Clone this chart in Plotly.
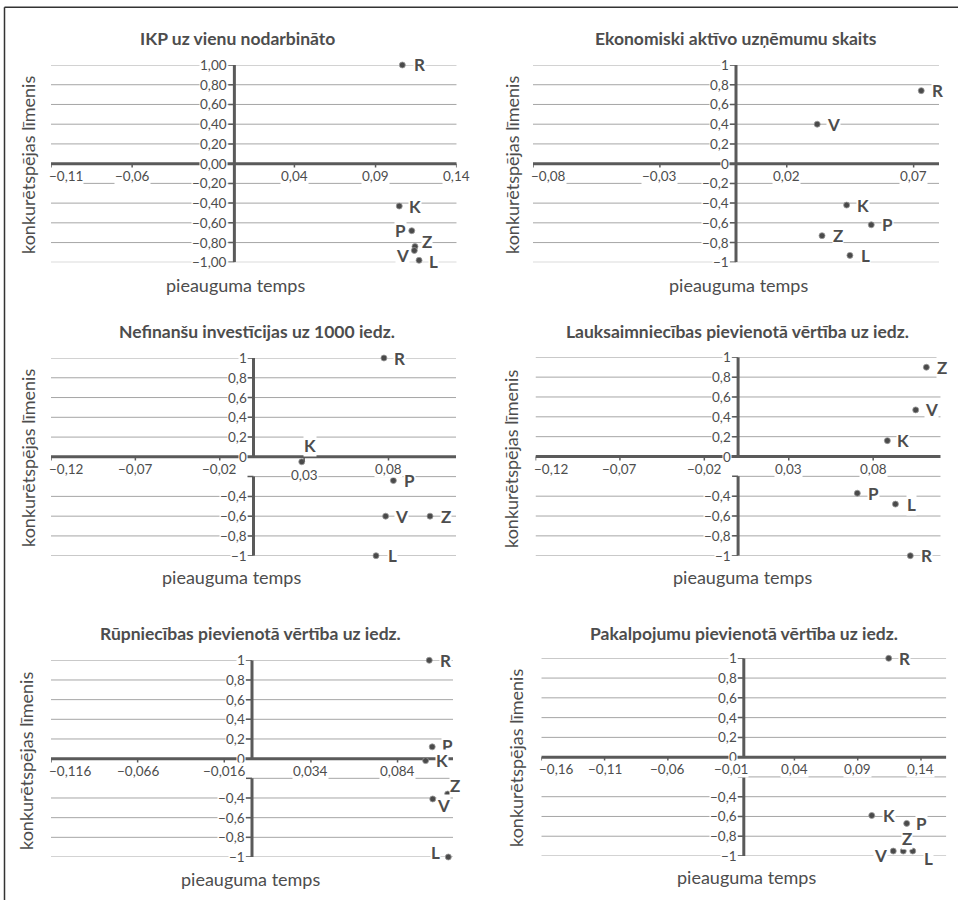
import plotly.graph_objects as go

W, H = 958, 900
FONT = "Lato"
TXT = "#4d4d4d"
AXC = "#5a5a5a"
GRID = "#a6a6a6"

# ---------------- data ----------------
titles = [
    "IKP uz vienu nodarbināto",
    "Ekonomiski aktīvo uzņēmumu skaits",
    "Nefinanšu investīcijas uz 1000 iedz.",
    "Lauksaimniecības pievienotā vērtība uz iedz.",
    "Rūpniecības pievienotā vērtība uz iedz.",
    "Pakalpojumu pievienotā vērtība uz iedz.",
]
x_title = "pieauguma temps"
y_title = "konkurētspējas līmenis"

p1_names = ["R", "K", "P", "Z", "V", "L"]
p1_x = [0.1065, 0.1046, 0.1123, 0.1143, 0.1139, 0.1168]
p1_y = [1.00, -0.43, -0.68, -0.84, -0.88, -0.98]

p2_names = ["R", "V", "K", "P", "Z", "L"]
p2_x = [0.073, 0.032, 0.0436, 0.0533, 0.0339, 0.0449]
p2_y = [0.74, 0.40, -0.42, -0.62, -0.73, -0.93]

p3_names = ["R", "K", "P", "V", "Z", "L"]
p3_x = [0.0773, 0.0286, 0.0829, 0.0783, 0.1046, 0.0726]
p3_y = [1.00, -0.05, -0.24, -0.60, -0.60, -1.00]

p4_names = ["Z", "V", "K", "P", "L", "R"]
p4_x = [0.1115, 0.1052, 0.0884, 0.0706, 0.0932, 0.1020]
p4_y = [0.90, 0.47, 0.16, -0.37, -0.48, -1.00]

p5_names = ["R", "P", "K", "Z", "V", "L"]
p5_x = [0.1023, 0.1040, 0.1002, 0.1129, 0.1043, 0.1133]
p5_y = [1.00, 0.12, -0.02, -0.36, -0.41, -1.00]

p6_names = ["R", "K", "P", "V", "Z", "L"]
p6_x = [0.1145, 0.1011, 0.1287, 0.1181, 0.1260, 0.1335]
p6_y = [1.00, -0.59, -0.67, -0.95, -0.95, -0.95]

x_ranges = [[-0.11, 0.14], [-0.08, 0.08], [-0.12, 0.12],
            [-0.12, 0.12], [-0.116, 0.116], [-0.16, 0.16]]
x_ticks = [
    [-0.11, -0.06, 0.04, 0.09, 0.14],
    [-0.08, -0.03, 0.02, 0.07],
    [-0.12, -0.07, -0.02, 0.03, 0.08],
    [-0.12, -0.07, -0.02, 0.03, 0.08],
    [-0.116, -0.066, -0.016, 0.034, 0.084],
    [-0.16, -0.11, -0.06, -0.01, 0.04, 0.09, 0.14],
]
x_tick_dec = [2, 2, 2, 2, 3, 2]
y_ticks = [1, 0.8, 0.6, 0.4, 0.2, 0, -0.2, -0.4, -0.6, -0.8, -1]
y_tick_dec = [2, None, None, None, None, None]

# ---------------- layout / style (pixels) ----------------
dom_px = [  # x0, x1, ytop, ybottom
    (51, 456.7, 65, 262.3),
    (533, 939, 65, 262.3),
    (51, 456, 358, 555.7),
    (535.5, 940.7, 357.3, 555.7),
    (51, 453, 660.3, 857),
    (541.3, 946.3, 658.3, 856),
]
y_cross = [0.003, 0, 0, 0, 0, 0]
gap_panels = [False, False, True, True, True, True]
title_pos = [(237, 38), (735.5, 38), (257, 332), (737, 332), (250, 633), (744, 633)]
xt_pos = [(235, 285), (738, 285), (231, 577), (742, 577), (250, 879), (746, 877)]
yt_pos = [(28, 165), (512, 165), (28, 458), (511, 459), (26, 761), (516, 758)]
# vertical shift (px, down) of individual x tick labels
xt_drop = [[0] * 5, [0] * 4, [0, 0, 0, 6, 0], [0] * 5, [0] * 5, [0] * 7]

# label offsets (dx, dy) in px, screen coords (dy>0 = down)
lab_off = [
    [(17, 0), (16, 0), (-11, 0), (12, -5), (-12, 5), (14, 1)],
    [(16, 0)] * 6,
    [(16, 0), (8, -16), (16, 0), (16, 0), (16, 0), (16, 0)],
    [(16, 0)] * 6,
    [(16, 0), (15, -1), (16, 0), (7, -9), (11, 7), (-13, -5)],
    [(16, 0), (17, 0), (15, 0), (-13, 4), (4, -13), (16, 7)],
]

panels = [
    (p1_names, p1_x, p1_y), (p2_names, p2_x, p2_y), (p3_names, p3_x, p3_y),
    (p4_names, p4_x, p4_y), (p5_names, p5_x, p5_y), (p6_names, p6_x, p6_y),
]


def fmt(v, dec):
    if dec is None:
        s = ("%g" % abs(v))
    else:
        s = f"{abs(v):.{dec}f}"
    s = s.replace(".", ",")
    return ("\u2212" + s) if v < 0 else s


def fx(px):
    return px / W


def fy(py):
    return 1 - py / H


fig = go.Figure()
shapes = []
annotations = []
layout = {}

for i in range(6):
    k = "" if i == 0 else str(i + 1)
    xr, yr = "x" + k, "y" + k
    x0p, x1p, ytp, ybp = dom_px[i]
    layout["xaxis" + k] = dict(domain=[fx(x0p), fx(x1p)], range=x_ranges[i],
                               showgrid=False, zeroline=False, showticklabels=False,
                               showline=False, anchor=yr, fixedrange=True)
    layout["yaxis" + k] = dict(domain=[fy(ybp), fy(ytp)], range=[-1, 1],
                               showgrid=False, zeroline=False, showticklabels=False,
                               showline=False, anchor=xr, fixedrange=True)
    xmin, xmax = x_ranges[i]
    cx = y_cross[i]

    # gridlines
    for yv in y_ticks:
        if yv == 0:
            continue
        gx0 = xmin
        if gap_panels[i] and abs(yv + 0.2) < 1e-9:
            gx0 = cx
        shapes.append(dict(type="line", xref=xr, yref=yr, x0=gx0, x1=xmax, y0=yv, y1=yv,
                           line=dict(color=GRID, width=1), layer="below"))
    # horizontal axis
    shapes.append(dict(type="line", xref=xr, yref=yr, x0=xmin, x1=xmax, y0=0, y1=0,
                       line=dict(color=AXC, width=3), layer="below"))
    # vertical axis
    if gap_panels[i]:
        segs = [(0, 1), (-1, -0.2)]
    else:
        segs = [(-1, 1)]
    for a, b in segs:
        shapes.append(dict(type="line", xref=xr, yref=yr, x0=cx, x1=cx, y0=a, y1=b,
                           line=dict(color=AXC, width=3), layer="below"))
    # y tick marks + labels
    for yv in y_ticks:
        shapes.append(dict(type="line", xref=xr, yref=yr, xsizemode="pixel", xanchor=cx,
                           x0=-6, x1=0, y0=yv, y1=yv, line=dict(color=AXC, width=1.5)))
        if gap_panels[i] and abs(yv + 0.2) < 1e-9:
            continue
        annotations.append(dict(xref=xr, yref=yr, x=cx, y=yv, text=fmt(yv, y_tick_dec[i]),
                                showarrow=False, xanchor="right", yanchor="middle",
                                xshift=-6, bgcolor="white", borderpad=0,
                                font=dict(family=FONT, size=13.5, color=TXT)))
    # x tick marks + labels
    for j, xv in enumerate(x_ticks[i]):
        shapes.append(dict(type="line", xref=xr, yref=yr, ysizemode="pixel", yanchor=0,
                           x0=xv, x1=xv, y0=0, y1=-5, line=dict(color=AXC, width=1.5)))
        first = (j == 0)
        annotations.append(dict(xref=xr, yref=yr, x=xv, y=0, text=fmt(xv, x_tick_dec[i]),
                                showarrow=False, xanchor="left" if first else "center",
                                yanchor="middle", xshift=-3 if first else 0,
                                yshift=-12 - xt_drop[i][j], bgcolor="white", borderpad=0,
                                font=dict(family=FONT, size=13.5, color=TXT)))
    # points
    names, xs, ys = panels[i]
    fig.add_trace(go.Scatter(x=xs, y=ys, mode="markers", xaxis=xr, yaxis=yr,
                             marker=dict(size=6, color="#4a4a4a",
                                         line=dict(width=0.8, color="#9a9a9a")),
                             showlegend=False, hoverinfo="skip", cliponaxis=False))
    for j, nm in enumerate(names):
        dx, dy = lab_off[i][j]
        annotations.append(dict(xref=xr, yref=yr, x=xs[j], y=ys[j], text="<b>" + nm + "</b>",
                                showarrow=False, xanchor="center", yanchor="middle",
                                xshift=dx, yshift=-dy, bgcolor="white", borderpad=0,
                                font=dict(family=FONT, size=17, color=TXT)))
    # titles
    tx, ty = title_pos[i]
    annotations.append(dict(xref="paper", yref="paper", x=fx(tx), y=fy(ty),
                            text="<b>" + titles[i] + "</b>", showarrow=False,
                            xanchor="center", yanchor="middle",
                            font=dict(family=FONT, size=17.5, color=TXT)))
    ax, ay = xt_pos[i]
    annotations.append(dict(xref="paper", yref="paper", x=fx(ax), y=fy(ay), text=x_title,
                            showarrow=False, xanchor="center", yanchor="middle",
                            font=dict(family=FONT, size=18, color=TXT)))
    bx, by = yt_pos[i]
    annotations.append(dict(xref="paper", yref="paper", x=fx(bx), y=fy(by), text=y_title,
                            showarrow=False, xanchor="center", yanchor="middle", textangle=-90,
                            font=dict(family=FONT, size=18, color=TXT)))

# frame (left and top border)
shapes.append(dict(type="line", xref="paper", yref="paper", x0=fx(4.5), x1=fx(4.5),
                   y0=0, y1=fy(7.3), line=dict(color="#333333", width=1.5)))
shapes.append(dict(type="line", xref="paper", yref="paper", x0=fx(4.5), x1=1,
                   y0=fy(7.3), y1=fy(7.3), line=dict(color="#333333", width=1.5)))

fig.update_layout(width=W, height=H, margin=dict(l=0, r=0, t=0, b=0),
                  paper_bgcolor="white", plot_bgcolor="rgba(0,0,0,0)",
                  shapes=shapes, annotations=annotations, **layout)
fig.write_html("out.html", config={"displayModeBar": False},
               post_script="document.body.style.margin='0';"
                           "document.body.style.overflow='hidden';")
